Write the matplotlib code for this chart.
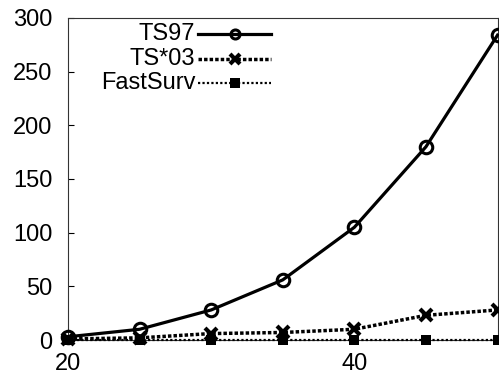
import matplotlib
matplotlib.use("Agg")
import matplotlib.pyplot as plt
from matplotlib.lines import Line2D

x = [20, 25, 30, 35, 40, 45, 50]
ts97 = [3, 10, 28, 56, 105, 180, 284]
ts03 = [1, 2, 6, 7, 10, 23, 28]
fastsurv = [0.3, 0.3, 0.3, 0.3, 0.3, 0.3, 0.3]
xticks = [20, 40]
yticks = [0, 50, 100, 150, 200, 250, 300]
labels = ['TS97', 'TS*03', 'FastSurv']

plt.rcParams['font.family'] = ['Liberation Sans', 'DejaVu Sans']
fig = plt.figure(figsize=(4.99, 3.74), dpi=100)
ax = fig.add_axes([0.1363, 0.0909, 0.8607, 0.861])

styles = [
    dict(color='black', lw=2.3, ls='-', marker='o', ms=9, mfc='none', mew=2.2),
    dict(color='black', lw=2.5, ls=(0, (1.0, 0.6)), marker='x', ms=8, mew=3),
    dict(color='black', lw=1.6, ls=(0, (1.0, 1.0)), marker='s', ms=7.5, mew=0),
]
for ys, st, lab in zip([ts97, ts03, fastsurv], styles, labels):
    ax.plot(x, ys, label=lab, clip_on=False, zorder=3, **st)

ax.set_xlim(20, 50)
ax.set_ylim(0, 300)
ax.set_xticks(xticks)
ax.set_yticks(yticks)
ax.tick_params(axis='both', direction='in', labelsize=17, length=4, width=0.8)
ax.tick_params(axis='x', length=0, pad=9)
ax.tick_params(axis='y', pad=11)
for s in ax.spines.values():
    s.set_linewidth(0.8)
    s.set_color('#333333')

# manual legend (gnuplot style: text right-aligned, sample to the right)
rows = [0.950, 0.873, 0.798]
legend_ms = [6.5, 7, 7]
for yy, st, lab, lms in zip(rows, styles, labels, legend_ms):
    ax.text(0.296, yy, lab, transform=ax.transAxes, ha='right', va='center', fontsize=17)
    st2 = dict(st)
    st2.pop('marker'); st2.pop('ms')
    ax.add_line(Line2D([0.303, 0.472], [yy, yy], transform=ax.transAxes, clip_on=False,
                       **{k: v for k, v in st2.items() if k in ('color', 'lw', 'ls')}))
    ax.add_line(Line2D([0.388], [yy], transform=ax.transAxes, clip_on=False, ls='none',
                       marker=st['marker'], ms=lms, color='black',
                       mfc=st.get('mfc', 'black'), mew=st['mew'] if st['mew'] else 0))

fig.savefig('out.png', dpi=100)
